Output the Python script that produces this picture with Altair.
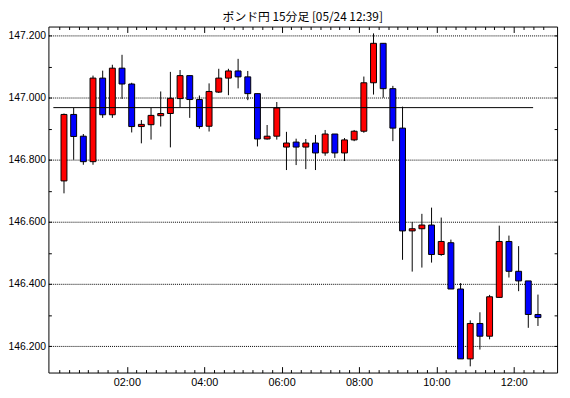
import altair as alt
import pandas as pd

# 15-minute candles, first starts at 00:15 (05/24)
opens = [146.732, 146.946, 146.876, 146.794, 147.063, 146.945, 147.095, 147.044, 146.907, 146.913,
         146.942, 146.949, 146.997, 147.071, 146.994, 146.908, 147.018, 147.063, 147.086, 147.067,
         147.013, 146.867, 146.876, 146.841, 146.857, 146.841, 146.854, 146.822, 146.883, 146.822,
         146.864, 146.892, 147.048, 147.175, 147.029, 146.902, 146.571, 146.578, 146.590, 146.495,
         146.533, 146.384, 146.159, 146.273, 146.232, 146.357, 146.537, 146.441, 146.410, 146.302]
highs = [146.949, 146.967, 146.883, 147.071, 147.087, 147.106, 147.138, 147.048, 146.928, 146.967,
         147.020, 147.083, 147.089, 147.071, 147.007, 147.046, 147.093, 147.093, 147.125, 147.086,
         147.013, 146.912, 146.986, 146.890, 146.868, 146.867, 146.880, 146.896, 146.883, 146.870,
         146.896, 147.068, 147.207, 147.175, 147.038, 146.971, 146.600, 146.626, 146.646, 146.614,
         146.543, 146.403, 146.283, 146.309, 146.365, 146.588, 146.556, 146.522, 146.410, 146.366]
lows = [146.692, 146.800, 146.784, 146.784, 146.935, 146.935, 146.996, 146.888, 146.853, 146.865,
        146.907, 146.840, 146.969, 146.935, 146.900, 146.891, 147.015, 147.008, 147.030, 146.992,
        146.843, 146.865, 146.865, 146.767, 146.783, 146.770, 146.767, 146.813, 146.806, 146.796,
        146.860, 146.887, 147.010, 147.000, 146.860, 146.478, 146.440, 146.453, 146.469, 146.491,
        146.384, 146.159, 146.135, 146.189, 146.222, 146.356, 146.421, 146.377, 146.259, 146.265]
closes = [146.946, 146.875, 146.794, 147.063, 146.945, 147.095, 147.044, 146.907, 146.914, 146.943,
          146.949, 146.998, 147.071, 146.994, 146.907, 147.020, 147.063, 147.086, 147.067, 147.013,
          146.867, 146.876, 146.967, 146.854, 146.841, 146.854, 146.822, 146.883, 146.822, 146.864,
          146.892, 147.048, 147.175, 147.029, 146.902, 146.571, 146.578, 146.590, 146.495, 146.537,
          146.384, 146.159, 146.273, 146.232, 146.359, 146.537, 146.441, 146.410, 146.302, 146.292]

ref_level = 146.968
ref_start = "2024-05-24T00:06:00"
ref_end = "2024-05-24T12:30:00"
x_domain = ["2024-05-24T00:06:00", "2024-05-24T12:59:30"]
y_domain = [146.115, 147.229]
title_text = "ポンド円 15分足 [05/24 12:39]"

times = pd.date_range("2024-05-24 00:22:30", periods=len(opens), freq="15min")
df = pd.DataFrame({
    "t": times.strftime("%Y-%m-%dT%H:%M:%S"),
    "open": opens, "high": highs, "low": lows, "close": closes,
})
df["dir"] = ["up" if c >= o else "down" for o, c in zip(opens, closes)]

ref_df = pd.DataFrame({"t": [ref_start], "t2": [ref_end], "v": [ref_level]})

W, H = 516, 351

def dt(h, m):
    return alt.DateTime(year=2024, month=5, date=24, hours=h, minutes=m)

label_times = [dt(h, 0) for h in range(2, 13, 2)]
quarter_times = [dt((15 * k) // 60, (15 * k) % 60) for k in range(1, 52)]
y_labels = [round(146.2 + 0.2 * i, 1) for i in range(6)]
y_ticks = [round(146.2 + 0.1 * i, 1) for i in range(11)]

x_scale = alt.Scale(domain=x_domain)
y_scale = alt.Scale(domain=y_domain, nice=False, zero=False)

FONT = "Liberation Sans"
tick_size_cond = {"condition": {"test": "minutes(datum.value) == 0 && hours(datum.value) % 2 == 0", "value": 6}, "value": 3}

wicks = alt.Chart(df).mark_rule(color="black", strokeWidth=1).encode(
    x=alt.X("t:T", scale=x_scale, title=None,
            axis=alt.Axis(orient="bottom", values=label_times, format="%H:%M", tickSize=0,
                          domain=False, grid=False, labelFont=FONT, labelFontSize=11,
                          labelColor="black", labelPadding=4)),
    y=alt.Y("low:Q", scale=y_scale, title=None,
            axis=alt.Axis(orient="left", values=y_labels, format=".3f", tickSize=0,
                          domain=False, grid=True, gridColor="black", gridDash=[1, 1],
                          gridWidth=1, labelFont=FONT, labelFontSize=10.5, labelColor="black",
                          labelPadding=3)),
    y2="high:Q",
)

# ticks along the top border, pointing down into the plot
bodies = alt.Chart(df).mark_bar(size=6, stroke="black", strokeWidth=1).encode(
    x=alt.X("t:T", scale=x_scale, title=None,
            axis=alt.Axis(orient="bottom", offset=-H, values=quarter_times, labels=False,
                          tickSize=tick_size_cond, tickColor="black", domain=False, grid=False)),
    y=alt.Y("open:Q", scale=y_scale, title=None,
            axis=alt.Axis(orient="right", offset=-W, values=y_ticks, labels=False,
                          tickSize=3, tickColor="black", domain=False, grid=False)),
    y2="close:Q",
    color=alt.Color("dir:N", scale=alt.Scale(domain=["up", "down"], range=["#ff0000", "#0000ff"]),
                    legend=None),
)

# ticks along the bottom border (pointing up) and right border (pointing left)
ref_line = alt.Chart(ref_df).mark_rule(color="black", strokeWidth=1).encode(
    x=alt.X("t:T", scale=x_scale, title=None,
            axis=alt.Axis(orient="top", offset=-H, values=quarter_times, labels=False,
                          tickSize=tick_size_cond, tickColor="black", domain=False, grid=False)),
    x2="t2:T",
    y=alt.Y("v:Q", scale=y_scale, title=None,
            axis=alt.Axis(orient="left", offset=-W, values=y_ticks, labels=False,
                          tickSize=3, tickColor="black", domain=False, grid=False)),
)

chart = alt.layer(wicks, bodies, ref_line).resolve_axis(
    x="independent", y="independent"
).properties(
    width=W, height=H,
    title=alt.TitleParams(title_text, font="Noto Sans CJK JP", fontSize=12, fontWeight="normal",
                          color="black", anchor="middle", offset=2, frame="group"),
    autosize=alt.AutoSizeParams(type="none"),
    padding={"left": 41, "top": 16, "right": 5, "bottom": 23},
    background="white",
).configure_view(stroke="black", strokeWidth=1)

chart.save("out.html", embed_options={"renderer": "svg", "actions": False})
